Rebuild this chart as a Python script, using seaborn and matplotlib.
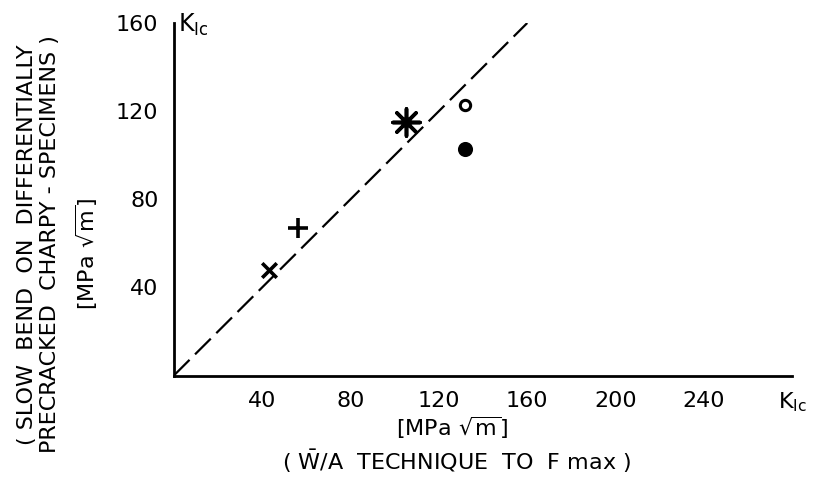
import numpy as np
import pandas as pd
import matplotlib
matplotlib.use("Agg")
import matplotlib.pyplot as plt
import seaborn as sns

# ---- data ----
pt_x = [43, 56, 105, 132, 132]
pt_y = [48, 67, 115, 123, 103]
pt_marker = ["x", "+", (8, 2, 0), "o", "o"]
pt_filled = [True, True, True, False, True]
pt_size = [110, 200, 380, 55, 75]

line_x = [0, 160]
line_y = [0, 160]

x_ticks = [40, 80, 120, 160, 200, 240, 280]
x_ticklabels = ["40", "80", "120", "160", "200", "240", r"$\mathregular{K_{Ic}}$"]
y_ticks = [40, 80, 120, 160]
y_ticklabels = ["40", "80", "120", "160"]

sns.set_style("white")
plt.rcParams["font.family"] = ["DejaVu Sans"]
plt.rcParams["mathtext.fontset"] = "dejavusans"
plt.rcParams["text.color"] = "black"
plt.rcParams["xtick.color"] = "black"
plt.rcParams["ytick.color"] = "black"

fig = plt.figure(figsize=(8.16, 4.79), dpi=100)
ax = fig.add_axes([0.213, 0.216, 0.758, 0.736])

# 45 degree reference line
sns.lineplot(x=line_x, y=line_y, ax=ax, color="black", lw=1.6,
             dashes=False, linestyle=(0, (10, 3.5)))

for x, y, m, f, s in zip(pt_x, pt_y, pt_marker, pt_filled, pt_size):
    if m == "o":
        sns.scatterplot(x=[x], y=[y], ax=ax, marker=m, s=s,
                        facecolor="black" if f else "white",
                        edgecolor="black", linewidth=2.2, zorder=5)
    else:
        sns.scatterplot(x=[x], y=[y], ax=ax, marker=m, s=s,
                        color="black", linewidth=2.6, zorder=5)

ax.set_xlim(0, 280)
ax.set_ylim(0, 160)
ax.set_xticks(x_ticks)
ax.set_xticklabels(x_ticklabels)
ax.set_yticks(y_ticks)
ax.set_yticklabels(y_ticklabels)
ax.tick_params(axis="both", direction="out", length=8, width=2,
               labelsize=16, color="black", labelcolor="black")
ax.tick_params(axis="x", pad=3)
ax.tick_params(axis="y", pad=3)

sns.despine(ax=ax)
for s in ["left", "bottom"]:
    ax.spines[s].set_linewidth(2)
    ax.spines[s].set_color("black")

# K_Ic label at top of y axis
ax.text(2, 159, r"$\mathregular{K_{Ic}}$", fontsize=17, ha="left",
        va="center", transform=ax.transData)

# y axis labels
fig.text(0.047, 0.49,
         "( SLOW  BEND  ON  DIFFERENTIALLY\nPRECRACKED  CHARPY - SPECIMENS )",
         rotation=90, ha="center", va="center", fontsize=16,
         linespacing=1.2, multialignment="center")
fig.text(0.106, 0.47, r"[MPa $\mathregular{\sqrt{m}}$]", rotation=90,
         ha="center", va="center", fontsize=16)

# x axis labels
fig.text(0.554, 0.106, r"[MPa $\mathregular{\sqrt{m}}$]", ha="center",
         va="center", fontsize=16)
fig.text(0.56, 0.036, r"( $\mathregular{\bar{W}}$/A  TECHNIQUE  TO  F max )",
         ha="center", va="center", fontsize=16)

fig.savefig("out.png", dpi=100)
